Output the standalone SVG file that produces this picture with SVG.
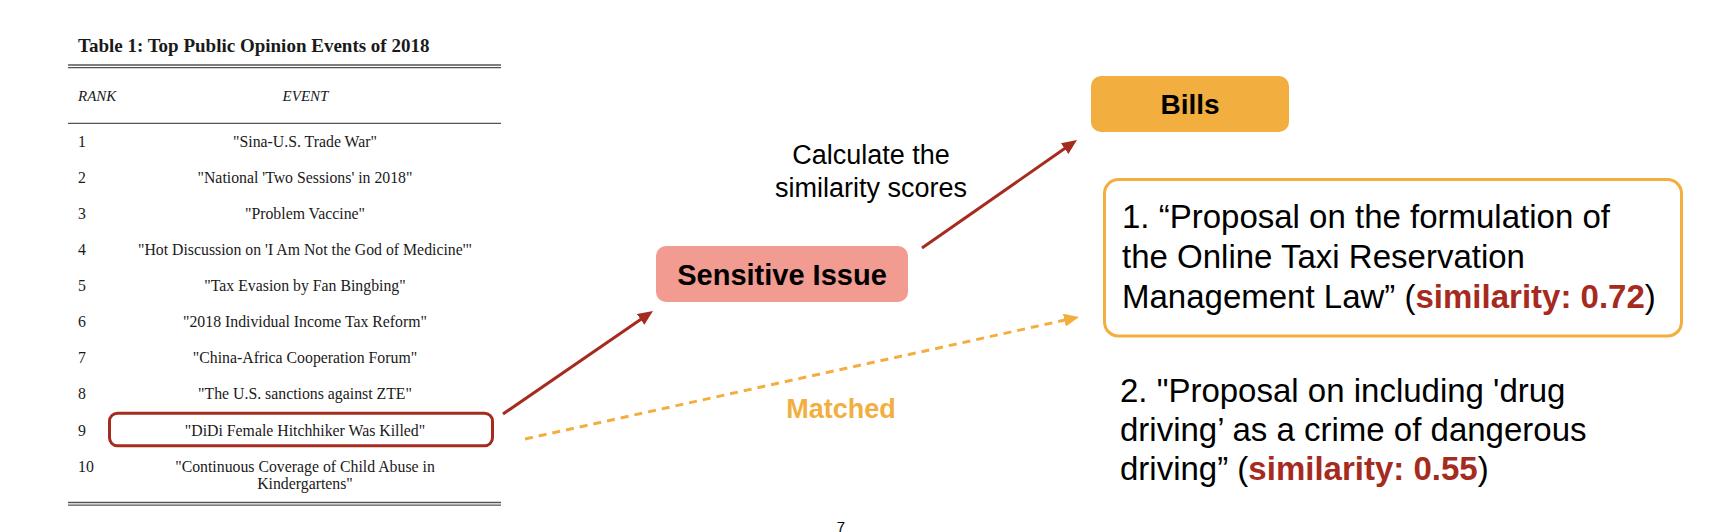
<svg xmlns="http://www.w3.org/2000/svg" width="1722" height="532" viewBox="0 0 1722 532">
  <style>
    .serif { font-family: "Liberation Serif", "Times New Roman", serif; fill: #1a1a1a; }
    .row { font-size: 15.8px; }
    .ctr { text-anchor: middle; }
    .hdr { font-size: 15px; font-style: italic; }
    .rule { stroke: #555; stroke-width: 1.3; fill: none; }
    .sans { font-family: "Liberation Sans", Arial, Helvetica, sans-serif; fill: #000; }
    .big { font-size: 33px; }
    .sim { font-weight: bold; fill: #A62B1F; }
    .red { stroke: #A62B1F; stroke-width: 3; fill: none; }
    .dash { stroke: #F2AE3E; stroke-width: 3; fill: none; stroke-dasharray: 8 6; }
  </style>
  <defs>
    <marker id="ahRed" viewBox="0 0 15 13" refX="7" refY="6.5" markerWidth="15" markerHeight="13" markerUnits="userSpaceOnUse" orient="auto">
      <path d="M0,0 L15,6.5 L0,13 z" fill="#A62B1F"/>
    </marker>
    <marker id="ahOrange" viewBox="0 0 15 13" refX="7" refY="6.5" markerWidth="15" markerHeight="13" markerUnits="userSpaceOnUse" orient="auto">
      <path d="M0,0 L15,6.5 L0,13 z" fill="#F2AE3E"/>
    </marker>
  </defs>
  <rect width="1722" height="532" fill="#fff"/>

  <g id="table">
    <text class="serif" x="78" y="52" font-size="19" font-weight="bold">Table 1: Top Public Opinion Events of 2018</text>
    <line class="rule" x1="68" y1="65" x2="501" y2="65"/>
    <line class="rule" x1="68" y1="67.6" x2="501" y2="67.6"/>
    <text class="serif hdr" x="78" y="101">RANK</text>
    <text class="serif hdr ctr" x="305.5" y="101">EVENT</text>
    <line class="rule" x1="68" y1="123.3" x2="501" y2="123.3"/>
    <g class="serif row">
      <text x="78" y="146.7">1</text>
      <text class="ctr" x="305" y="146.7">"Sina-U.S. Trade War"</text>
      <text x="78" y="182.8">2</text>
      <text class="ctr" x="305" y="182.8">"National 'Two Sessions' in 2018"</text>
      <text x="78" y="218.9">3</text>
      <text class="ctr" x="305" y="218.9">"Problem Vaccine"</text>
      <text x="78" y="255">4</text>
      <text class="ctr" x="305" y="255">"Hot Discussion on 'I Am Not the God of Medicine'"</text>
      <text x="78" y="291.1">5</text>
      <text class="ctr" x="305" y="291.1">"Tax Evasion by Fan Bingbing"</text>
      <text x="78" y="327.2">6</text>
      <text class="ctr" x="305" y="327.2">"2018 Individual Income Tax Reform"</text>
      <text x="78" y="363.3">7</text>
      <text class="ctr" x="305" y="363.3">"China-Africa Cooperation Forum"</text>
      <text x="78" y="399.4">8</text>
      <text class="ctr" x="305" y="399.4">"The U.S. sanctions against ZTE"</text>
      <text x="78" y="435.5">9</text>
      <text class="ctr" x="305" y="435.5">"DiDi Female Hitchhiker Was Killed"</text>
      <text x="78" y="471.6">10</text>
      <text class="ctr" x="305" y="471.6">"Continuous Coverage of Child Abuse in</text>
      <text class="ctr" x="305" y="489.3">Kindergartens"</text>
    </g>
    <line class="rule" x1="68" y1="502.5" x2="501" y2="502.5"/>
    <line class="rule" x1="68" y1="505.1" x2="501" y2="505.1"/>
  </g>

  <g id="highlight-row-9">
    <rect x="109.5" y="413.2" width="383" height="32.6" rx="8" fill="none" stroke="#A62B1F" stroke-width="3"/>
  </g>

  <g id="connectors">
    <line class="red" x1="503" y1="414" x2="646.4" y2="315.5" marker-end="url(#ahRed)"/>
    <line class="red" x1="922" y1="248" x2="1070.4" y2="144.6" marker-end="url(#ahRed)"/>
    <line class="dash" x1="525" y1="439" x2="1071.2" y2="318.7" marker-end="url(#ahOrange)"/>
    <text class="sans" x="871" y="164" font-size="27" text-anchor="middle">Calculate the</text>
    <text class="sans" x="871" y="197" font-size="27" text-anchor="middle">similarity scores</text>
    <text x="841" y="418" font-family="Liberation Sans, Arial, sans-serif" font-size="27" font-weight="bold" fill="#F2AE3E" text-anchor="middle">Matched</text>
  </g>

  <g id="sensitive-issue">
    <rect x="656" y="246" width="252" height="56" rx="10" fill="#F29B90"/>
    <text class="sans" x="782" y="285" font-size="29" font-weight="bold" text-anchor="middle">Sensitive Issue</text>
  </g>

  <g id="bills">
    <rect x="1091" y="76" width="198" height="56" rx="10" fill="#F2AE3E"/>
    <text class="sans" x="1190" y="114" font-size="28" font-weight="bold" text-anchor="middle">Bills</text>
  </g>

  <g id="bill-1">
    <rect x="1104.5" y="179.5" width="577" height="156.5" rx="14" fill="#fff" stroke="#F2AE3E" stroke-width="3"/>
    <text class="sans big" x="1122" y="228">1. “Proposal on the formulation of</text>
    <text class="sans big" x="1122" y="268">the Online Taxi Reservation</text>
    <text class="sans big" x="1122" y="308">Management Law” (<tspan class="sim">similarity: 0.72</tspan>)</text>
  </g>

  <g id="bill-2">
    <text class="sans big" x="1120" y="402">2. "Proposal on including 'drug</text>
    <text class="sans big" x="1120" y="441">driving’ as a crime of dangerous</text>
    <text class="sans big" x="1120" y="480">driving” (<tspan class="sim">similarity: 0.55</tspan>)</text>
  </g>

  <g id="page-number">
    <text class="sans" x="841" y="532" font-size="15" text-anchor="middle">7</text>
  </g>
</svg>
